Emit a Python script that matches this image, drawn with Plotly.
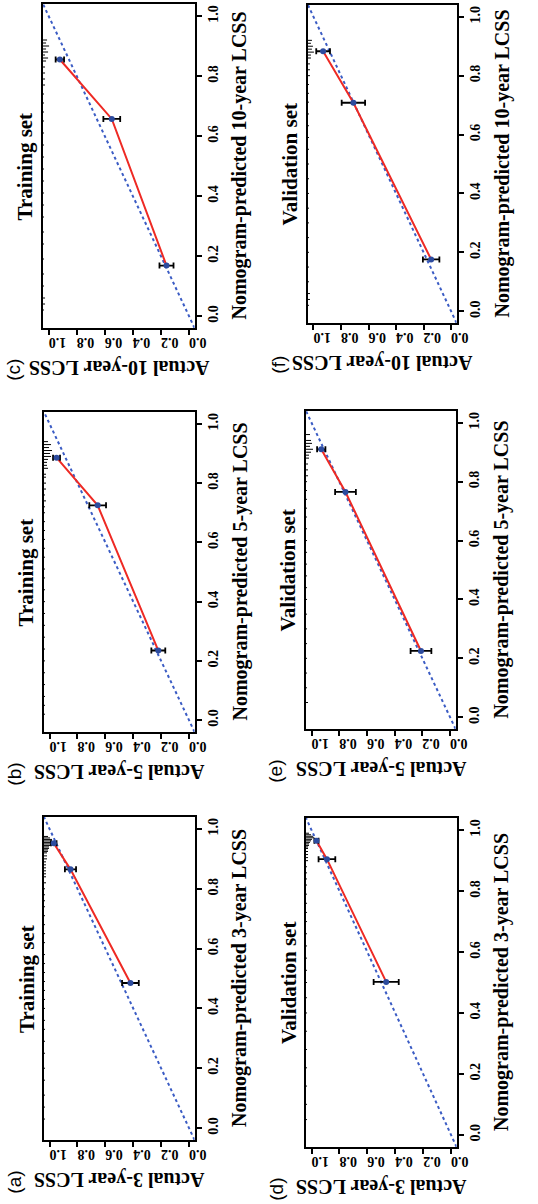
import plotly.graph_objects as go

W, H = 538, 1204

# ---- calibration data: nomogram-predicted vs observed LCSS (x = observed, y = predicted)
pred_a = [0.485, 0.865, 0.952]
obs_a = [0.420, 0.850, 0.970]
err_a = [0.060, 0.040, 0.020]

pred_b = [0.235, 0.725, 0.886]
obs_b = [0.220, 0.655, 0.950]
err_b = [0.050, 0.060, 0.025]

pred_c = [0.168, 0.657, 0.855]
obs_c = [0.160, 0.550, 0.920]
err_c = [0.050, 0.060, 0.030]

pred_d = [0.502, 0.905, 0.965]
obs_d = [0.465, 0.890, 0.965]
err_d = [0.090, 0.060, 0.015]

pred_e = [0.225, 0.765, 0.910]
obs_e = [0.210, 0.755, 0.930]
err_e = [0.075, 0.075, 0.030]

pred_f = [0.176, 0.708, 0.883]
obs_f = [0.145, 0.710, 0.930]
err_f = [0.060, 0.085, 0.050]

# ---- spike histogram of predicted values (position, relative frequency)
rug_a = [0.975, 0.97, 0.965, 0.96, 0.955, 0.95, 0.945, 0.94, 0.935, 0.93, 0.925, 0.92, 0.91,
         0.90, 0.89, 0.88, 0.87, 0.86, 0.85, 0.84, 0.82, 0.80, 0.78, 0.76, 0.74, 0.71, 0.68,
         0.65, 0.62, 0.58, 0.55, 0.52, 0.49, 0.46, 0.43, 0.40, 0.36, 0.33, 0.29, 0.25, 0.20,
         0.16, 0.11, 0.07, 0.03]
cnt_a = [4, 6, 8, 8, 7, 7, 6, 5, 5, 4, 4, 3, 3, 3, 2, 2, 2, 2, 2, 2, 2, 1, 1, 1, 1, 1, 1,
         1, 1, 1, 1, 1, 1, 1, 1, 1, 1, 1, 1, 1, 1, 1, 1, 1, 1]

rug_b = [0.94, 0.93, 0.92, 0.91, 0.90, 0.89, 0.88, 0.87, 0.86, 0.85, 0.83, 0.82, 0.80, 0.78,
         0.76, 0.74, 0.72, 0.70, 0.67, 0.64, 0.61, 0.58, 0.55, 0.51, 0.48, 0.44, 0.40, 0.36,
         0.32, 0.28, 0.24, 0.20, 0.16, 0.12, 0.08, 0.05, 0.02]
cnt_b = [4, 7, 5, 8, 6, 7, 4, 3, 3, 4, 2, 2, 2, 2, 1, 2, 1, 1, 1, 1, 1, 1, 1, 1, 1, 1, 1, 1,
         1, 1, 1, 1, 1, 1, 1, 1, 1]

rug_c = [0.92, 0.91, 0.90, 0.89, 0.88, 0.87, 0.86, 0.85, 0.83, 0.81, 0.79, 0.77, 0.74, 0.71,
         0.68, 0.65, 0.61, 0.57, 0.53, 0.49, 0.45, 0.41, 0.37, 0.33, 0.28, 0.24, 0.19, 0.14,
         0.10, 0.06, 0.04, 0.02]
cnt_c = [4, 3, 6, 3, 5, 2, 5, 3, 2, 2, 2, 2, 1, 1, 1, 1, 1, 1, 1, 1, 1, 1, 1, 1, 1, 1, 1, 1,
         1, 2, 2, 1]

rug_d = [0.99, 0.985, 0.98, 0.975, 0.97, 0.965, 0.96, 0.955, 0.95, 0.945, 0.94, 0.93, 0.92,
         0.91, 0.90, 0.88, 0.86, 0.84, 0.82, 0.79, 0.76, 0.73, 0.70, 0.66, 0.62, 0.58, 0.54,
         0.50, 0.45, 0.40, 0.34, 0.28, 0.22, 0.16, 0.10, 0.05]
cnt_d = [3, 5, 7, 8, 6, 5, 4, 3, 3, 2, 2, 2, 2, 2, 2, 1, 1, 1, 1, 1, 1, 1, 1, 1, 1, 1, 1,
         1, 1, 1, 1, 1, 1, 1, 1, 1]

rug_e = [0.96, 0.94, 0.93, 0.92, 0.91, 0.90, 0.89, 0.88, 0.86, 0.84, 0.82, 0.80, 0.77, 0.74,
         0.71, 0.68, 0.64, 0.60, 0.56, 0.52, 0.48, 0.44, 0.40, 0.35, 0.30, 0.25, 0.20, 0.15,
         0.10, 0.05]
cnt_e = [4, 5, 6, 4, 7, 5, 3, 3, 2, 2, 2, 1, 1, 1, 1, 1, 1, 1, 1, 1, 1, 1, 1, 1, 1, 1, 1, 1,
         1, 2]

rug_f = [0.92, 0.91, 0.90, 0.89, 0.88, 0.87, 0.86, 0.84, 0.82, 0.80, 0.77, 0.74, 0.71, 0.67,
         0.63, 0.59, 0.55, 0.50, 0.45, 0.40, 0.35, 0.30, 0.25, 0.20, 0.15, 0.10, 0.06, 0.04,
         0.02]
cnt_f = [4, 3, 5, 4, 6, 3, 3, 2, 2, 2, 1, 1, 1, 1, 1, 1, 1, 1, 1, 1, 1, 1, 1, 1, 1, 1, 2,
         2, 1]

tick_vals = [0.0, 0.2, 0.4, 0.6, 0.8, 1.0]
tick_text = ["0.0", "0.2", "0.4", "0.6", "0.8", "1.0"]

panels = [
    # letter, set name, horizon, predicted, observed, error, rug, counts, box (left, right, top, bottom) px
    ("a", "Training set", "3-year", pred_a, obs_a, err_a, rug_a, cnt_a, (45, 199, 817, 1140)),
    ("b", "Training set", "5-year", pred_b, obs_b, err_b, rug_b, cnt_b, (45, 199, 412, 732)),
    ("c", "Training set", "10-year", pred_c, obs_c, err_c, rug_c, cnt_c, (44, 199, 4, 328)),
    ("d", "Validation set", "3-year", pred_d, obs_d, err_d, rug_d, cnt_d, (313, 467, 818, 1147)),
    ("e", "Validation set", "5-year", pred_e, obs_e, err_e, rug_e, cnt_e, (313, 466, 411, 729)),
    ("f", "Validation set", "10-year", pred_f, obs_f, err_f, rug_f, cnt_f, (315, 467, 5, 323)),
]

LO, HI = -0.04, 1.04
SPIKE_UNIT = 0.0072  # length of one spike-count unit along the observed axis
SERIF = "Liberation Serif"
RED = "#ee2a24"
BLUE_DIAG = "#3b5cc4"
BLUE_PT = "#2c4b9e"


def px_x(v):
    return v / W


def px_y(v):
    return 1 - v / H


fig = go.Figure()
annotations = []

for i, (letter, set_name, horizon, pred, obs, err, rug, cnt, box) in enumerate(panels, start=1):
    left, right, top, bottom = box
    xa = "x" if i == 1 else f"x{i}"
    ya = "y" if i == 1 else f"y{i}"

    # spike histogram along the high-observed edge
    rx, ry = [], []
    for p, n in zip(rug, cnt):
        rx += [HI, HI - n * SPIKE_UNIT, None]
        ry += [p, p, None]
    fig.add_trace(go.Scatter(x=rx, y=ry, mode="lines", xaxis=xa, yaxis=ya,
                             line=dict(color="black", width=1), showlegend=False,
                             hoverinfo="skip"))

    # ideal reference line
    fig.add_trace(go.Scatter(x=[LO, HI], y=[LO, HI], mode="lines", xaxis=xa, yaxis=ya,
                             line=dict(color=BLUE_DIAG, width=2, dash="dot"),
                             showlegend=False))

    # calibration curve
    fig.add_trace(go.Scatter(x=obs, y=pred, mode="lines", xaxis=xa, yaxis=ya,
                             line=dict(color=RED, width=2), showlegend=False))

    # observed points with 95% CI bars
    fig.add_trace(go.Scatter(x=obs, y=pred, mode="markers", xaxis=xa, yaxis=ya,
                             marker=dict(color=BLUE_PT, size=6, symbol="circle"),
                             error_x=dict(type="data", array=err, symmetric=True,
                                          color="black", thickness=1.8, width=3),
                             showlegend=False))

    axis_common = dict(
        showgrid=False, zeroline=False, showline=True, mirror=True,
        linecolor="black", linewidth=2,
        ticks="outside", ticklen=5, tickwidth=1.5, tickcolor="black",
        tickmode="array", tickvals=tick_vals, ticktext=tick_text,
        tickfont=dict(family=SERIF, size=14, color="black", weight="bold"),
    )
    fig.update_layout(**{
        ("xaxis" if i == 1 else f"xaxis{i}"): dict(
            axis_common, domain=[px_x(left), px_x(right)], range=[HI, LO],
            anchor=ya, side="bottom", tickangle=180),
        ("yaxis" if i == 1 else f"yaxis{i}"): dict(
            axis_common, domain=[px_y(bottom), px_y(top)], range=[LO, HI],
            anchor=xa, side="right", tickangle=-90),
    })

    cx = (left + right) / 2
    cy = (top + bottom) / 2
    annotations += [
        dict(text=f"<b>{set_name}</b>", x=px_x(left - 18), y=px_y(cy), textangle=-90,
             font=dict(family=SERIF, size=21, color="black")),
        dict(text=f"<b>Nomogram-predicted {horizon} LCSS</b>", x=px_x(right + 46), y=px_y(cy),
             textangle=-90, font=dict(family=SERIF, size=20, color="black")),
        dict(text=f"<b>Actual {horizon} LCSS</b>", x=px_x(cx), y=px_y(bottom + 40),
             textangle=180, font=dict(family=SERIF, size=20, color="black")),
        dict(text=f"({letter})", x=px_x(left - 31), y=px_y(bottom + 42), textangle=-90,
             font=dict(family="Liberation Sans", size=19, color="black")),
    ]

for a in annotations:
    a.update(xref="paper", yref="paper", xanchor="center", yanchor="middle",
             showarrow=False)

fig.update_layout(
    width=W, height=H,
    margin=dict(l=0, r=0, t=0, b=0),
    paper_bgcolor="white", plot_bgcolor="white",
    annotations=annotations,
    showlegend=False,
)

fig.write_html("out.html")
